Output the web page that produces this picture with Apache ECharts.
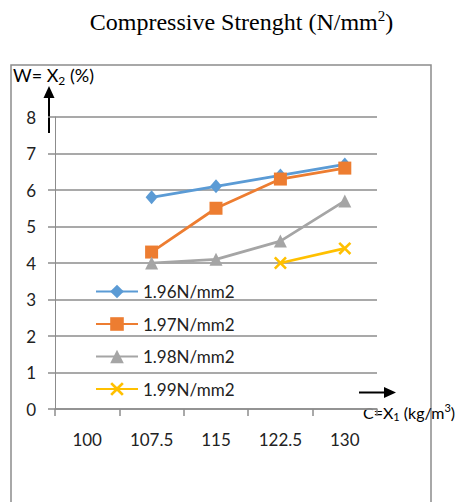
<!DOCTYPE html>
<html>
<head>
<meta charset="utf-8">
<script src="https://cdn.jsdelivr.net/npm/echarts@6/dist/echarts.min.js"></script>
<style>html,body{margin:0;padding:0;background:#fff;}#c{width:456px;height:502px;}</style>
</head>
<body>
<div id="c"></div>
<script>
var categories = ['100', '107.5', '115', '122.5', '130'];
var seriesNames = ['1.96N/mm2', '1.97N/mm2', '1.98N/mm2', '1.99N/mm2'];
var s196 = [null, 5.8, 6.1, 6.4, 6.7];
var s197 = [null, 4.3, 5.5, 6.3, 6.6];
var s198 = [null, 4.0, 4.1, 4.6, 5.7];
var s199 = [null, null, null, 4.0, 4.4];
var yTicks = [0, 1, 2, 3, 4, 5, 6, 7, 8];

var FONT = 'Lato';
var crossPath = 'path://M0,1.4L1.4,0L5,3.6L8.6,0L10,1.4L6.4,5L10,8.6L8.6,10L5,6.4L1.4,10L0,8.6L3.6,5Z';
function mk(name, data, color, symbol, size) {
  return {
    name: name, type: 'line', data: data,
    symbol: symbol, symbolSize: size, showAllSymbol: true,
    lineStyle: { color: color, width: 2.75 },
    itemStyle: { color: color },
    emphasis: { disabled: true },
    animation: false
  };
}
var chart = echarts.init(document.getElementById('c'), null, { renderer: 'svg' });
chart.setOption({
  backgroundColor: '#fff',
  animation: false,
  grid: { left: 55, right: 79, top: 117, bottom: 93 },
  xAxis: {
    type: 'category', data: categories, boundaryGap: true,
    axisLine: { lineStyle: { color: '#8c8c8c', width: 1.5 } },
    axisTick: { show: true, length: 7, lineStyle: { color: '#8c8c8c', width: 1.5 } },
    axisLabel: { fontFamily: FONT, fontSize: 17, color: '#222', margin: 22 }
  },
  yAxis: {
    type: 'value', min: yTicks[0], max: yTicks[yTicks.length - 1], interval: 1,
    axisLine: { show: true, lineStyle: { color: '#8c8c8c', width: 1 } },
    axisTick: { show: true, length: 7, lineStyle: { color: '#8c8c8c', width: 1.5 } },
    splitLine: { lineStyle: { color: '#8c8c8c', width: 1.5 } },
    axisLabel: { fontFamily: FONT, fontSize: 17, color: '#222', margin: 19 }
  },
  legend: {
    orient: 'vertical', left: 95, top: 283, padding: 0, itemWidth: 42, itemHeight: 17, itemGap: 15.5,
    textStyle: { fontFamily: FONT, fontSize: 17, color: '#222' },
    data: seriesNames
  },
  series: [
    mk(seriesNames[0], s196, '#5B9BD5', 'diamond', [12, 14]),
    mk(seriesNames[1], s197, '#ED7D31', 'rect', 13),
    mk(seriesNames[2], s198, '#A5A5A5', 'triangle', 13),
    mk(seriesNames[3], s199, '#FFC000', crossPath, 13)
  ],
  graphic: [
    { type: 'rect', shape: { x: 11, y: 65, width: 420, height: 450 }, style: { fill: 'none', stroke: '#8c8c8c', lineWidth: 1.5 }, silent: true },
    { type: 'text', x: 241.5, y: 22, style: {
        text: '{a|Compressive Strenght (N/mm}{s|2}{a|)}',
        align: 'center', verticalAlign: 'middle',
        rich: {
          a: { fontFamily: 'Liberation Serif', fontSize: 24, color: '#111', lineHeight: 28 },
          s: { fontFamily: 'Liberation Serif', fontSize: 15, color: '#111', lineHeight: 16, verticalAlign: 'top' }
        } } },
    { type: 'text', x: 13, y: 75, style: {
        text: '{a|W= X}{s|2}{a| (%)}',
        align: 'left', verticalAlign: 'middle',
        rich: {
          a: { fontFamily: FONT, fontSize: 18, color: '#111', lineHeight: 22 },
          s: { fontFamily: FONT, fontSize: 12, color: '#111', lineHeight: 13, verticalAlign: 'bottom' }
        } } },
    { type: 'text', x: 363, y: 412, style: {
        text: '{a|C=X}{s|1}{a| (kg/m}{u|3}{a|)}',
        align: 'left', verticalAlign: 'middle',
        rich: {
          a: { fontFamily: FONT, fontSize: 16, color: '#111', lineHeight: 20 },
          s: { fontFamily: FONT, fontSize: 11, color: '#111', lineHeight: 12, verticalAlign: 'bottom' },
          u: { fontFamily: FONT, fontSize: 11, color: '#111', lineHeight: 12, verticalAlign: 'top' }
        } } },
    { type: 'line', shape: { x1: 49, y1: 133, x2: 49, y2: 96 }, style: { stroke: '#000', lineWidth: 2 } },
    { type: 'polygon', shape: { points: [[49, 86], [43.5, 98], [54.5, 98]] }, style: { fill: '#000' } },
    { type: 'line', shape: { x1: 359, y1: 392.5, x2: 386, y2: 392.5 }, style: { stroke: '#000', lineWidth: 2 } },
    { type: 'polygon', shape: { points: [[396, 392.5], [384, 387], [384, 398]] }, style: { fill: '#000' } }
  ]
});
</script>
</body>
</html>
